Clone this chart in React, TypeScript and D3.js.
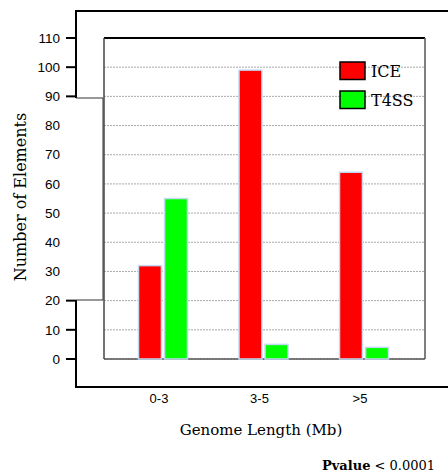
import React from 'react';
import * as d3 from 'd3';

// genome length groups vs. element counts
const categories = ['0-3', '3-5', '>5'];
const seriesNames = ['ICE', 'T4SS'];
const iceValues = [32, 99, 64];
const t4ssValues = [55, 5, 4];
const yTicks = [0, 10, 20, 30, 40, 50, 60, 70, 80, 90, 100, 110];
const colors = ['#ff0000', '#00ff00'];

const W = 448;
const H = 474;
const plot = { left: 104, right: 425, top: 38, bottom: 359 };
const serif = '"DejaVu Serif", "Liberation Serif", serif';
const sans = '"Liberation Sans", Arial, sans-serif';

export default function App() {
  const y = d3.scaleLinear().domain([0, 110]).range([plot.bottom, plot.top]);
  const x0 = d3.scaleBand().domain(categories).range([112.75, 414.25]);
  const x1 = d3.scaleBand().domain(seriesNames).range([-24.5, 24.5]).paddingInner(0.12);
  const values = [iceValues, t4ssValues];

  // ticks hidden behind the odd white patch on the left frame
  const hiddenTicks = (v: number) => y(v) > 99 && y(v) < 299;

  return (
    <svg width={W} height={H} style={{ position: 'absolute', left: 0, top: 0, background: '#fff' }}>
      <rect x={0} y={0} width={W} height={H} fill="#fff" />
      {/* outer frame */}
      <line x1={76} x2={W} y1={11} y2={11} stroke="#000" strokeWidth={2} />
      <line x1={76} x2={W} y1={387} y2={387} stroke="#000" strokeWidth={2} />
      <line x1={76} x2={76} y1={10} y2={98} stroke="#000" strokeWidth={2} />
      <line x1={76} x2={76} y1={300} y2={388} stroke="#000" strokeWidth={2} />
      <path d="M76,98H103V300H76" fill="none" stroke="#333" strokeWidth={1} />

      {/* grid */}
      {yTicks.slice(0, -1).map((t) => (
        <line key={'g' + t} x1={plot.left} x2={plot.right} y1={y(t)} y2={y(t)}
          stroke="#aaa" strokeWidth={1} strokeDasharray="2,1" />
      ))}

      {/* inner plot border */}
      <line x1={plot.left} x2={plot.right} y1={plot.top} y2={plot.top} stroke="#000" strokeWidth={2} />
      <line x1={plot.left} x2={plot.left} y1={plot.top} y2={plot.bottom} stroke="#444" strokeWidth={1.5} />
      <line x1={plot.right} x2={plot.right} y1={plot.top} y2={plot.bottom} stroke="#555" strokeWidth={1.5} />
      <line x1={plot.left} x2={plot.right} y1={plot.bottom} y2={plot.bottom} stroke="#555" strokeWidth={1.5} />

      {/* y ticks */}
      {yTicks.map((t) => (
        <g key={'t' + t}>
          {!hiddenTicks(t) && <line x1={66} x2={76} y1={y(t)} y2={y(t)} stroke="#000" strokeWidth={2} />}
          <text x={60} y={y(t)} dy="0.35em" textAnchor="end" fontFamily={sans} fontSize={13.5}>{t}</text>
        </g>
      ))}

      {/* bars */}
      {categories.map((c, i) => (
        <g key={c} transform={`translate(${x0(c)! + x0.bandwidth() / 2},0)`}>
          {seriesNames.map((s, j) => (
            <rect key={s} x={x1(s)} y={y(values[j][i])} width={x1.bandwidth()}
              height={plot.bottom - y(values[j][i])} fill={colors[j]}
              stroke="#c4daf4" strokeWidth={1.5} />
          ))}
          <text x={-4} y={403} textAnchor="middle" fontFamily={sans} fontSize={13}>{c}</text>
        </g>
      ))}

      {/* legend */}
      {seriesNames.map((s, j) => (
        <g key={'l' + s} transform={`translate(340,${62 + j * 29})`}>
          <rect x={0} y={0} width={25} height={17.5} fill={colors[j]} stroke="#000" strokeWidth={1.5} />
          <text x={31} y={14.5} fontFamily={serif} fontSize={16}>{s}</text>
        </g>
      ))}

      {/* axis titles */}
      <text x={261} y={435} textAnchor="middle" fontFamily={serif} fontSize={15}>Genome Length (Mb)</text>
      <text transform="translate(26,197) rotate(-90)" textAnchor="middle" fontFamily={serif} fontSize={16}>
        Number of Elements
      </text>
      <text x={322} y={470} fontFamily={serif} fontSize={13}>
        <tspan fontWeight="bold">Pvalue</tspan> &lt; 0.0001
      </text>
    </svg>
  );
}
